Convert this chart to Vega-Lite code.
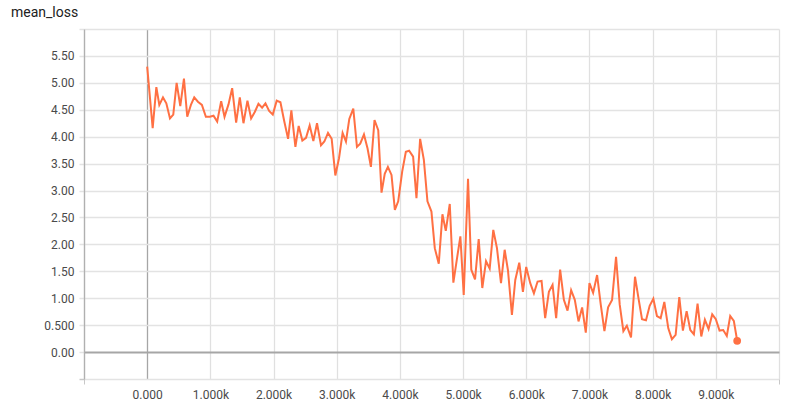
{
  "$schema": "https://vega.github.io/schema/vega-lite/v6.json",
  "autosize": {"type": "none"},
  "padding": {"left": 84, "top": 29, "right": 25, "bottom": 30},
  "width": 695,
  "height": 350,
  "background": "white",
  "title": {"text": "mean_loss", "anchor": "start", "frame": "group", "orient": "top", "offset": 0, "dx": -73, "dy": -3, "font": "Roboto", "fontSize": 14, "fontWeight": "normal", "color": "#212121"},
  "config": {"view": {"stroke": null}},
  "data": {"values": [
    {"step": 0, "value": 5.30}, {"step": 87, "value": 4.16}, {"step": 145, "value": 4.92}, {"step": 192, "value": 4.59},
    {"step": 250, "value": 4.73}, {"step": 303, "value": 4.62}, {"step": 361, "value": 4.34}, {"step": 413, "value": 4.41},
    {"step": 466, "value": 5.00}, {"step": 524, "value": 4.57}, {"step": 582, "value": 5.08}, {"step": 634, "value": 4.37},
    {"step": 692, "value": 4.59}, {"step": 745, "value": 4.73}, {"step": 803, "value": 4.65}, {"step": 866, "value": 4.59},
    {"step": 929, "value": 4.37}, {"step": 992, "value": 4.37}, {"step": 1050, "value": 4.39}, {"step": 1108, "value": 4.28},
    {"step": 1171, "value": 4.66}, {"step": 1224, "value": 4.37}, {"step": 1287, "value": 4.60}, {"step": 1345, "value": 4.90},
    {"step": 1408, "value": 4.26}, {"step": 1466, "value": 4.73}, {"step": 1524, "value": 4.25}, {"step": 1587, "value": 4.67},
    {"step": 1645, "value": 4.34}, {"step": 1703, "value": 4.46}, {"step": 1761, "value": 4.61}, {"step": 1819, "value": 4.54},
    {"step": 1872, "value": 4.62}, {"step": 1930, "value": 4.48}, {"step": 1988, "value": 4.41}, {"step": 2050, "value": 4.67},
    {"step": 2109, "value": 4.64}, {"step": 2167, "value": 4.30}, {"step": 2230, "value": 3.96}, {"step": 2282, "value": 4.49},
    {"step": 2346, "value": 3.81}, {"step": 2398, "value": 4.20}, {"step": 2456, "value": 3.93}, {"step": 2514, "value": 3.98},
    {"step": 2572, "value": 4.21}, {"step": 2630, "value": 3.92}, {"step": 2688, "value": 4.25}, {"step": 2751, "value": 3.84},
    {"step": 2804, "value": 3.91}, {"step": 2862, "value": 4.07}, {"step": 2920, "value": 3.96}, {"step": 2978, "value": 3.28},
    {"step": 3036, "value": 3.60}, {"step": 3093, "value": 4.07}, {"step": 3146, "value": 3.91}, {"step": 3199, "value": 4.33},
    {"step": 3262, "value": 4.52}, {"step": 3320, "value": 3.81}, {"step": 3372, "value": 3.87}, {"step": 3431, "value": 4.04},
    {"step": 3488, "value": 3.78}, {"step": 3541, "value": 3.44}, {"step": 3598, "value": 4.31}, {"step": 3657, "value": 4.12},
    {"step": 3709, "value": 2.96}, {"step": 3760, "value": 3.31}, {"step": 3810, "value": 3.44}, {"step": 3867, "value": 3.29},
    {"step": 3920, "value": 2.64}, {"step": 3973, "value": 2.80}, {"step": 4036, "value": 3.35}, {"step": 4094, "value": 3.72},
    {"step": 4146, "value": 3.74}, {"step": 4209, "value": 3.63}, {"step": 4262, "value": 2.86}, {"step": 4320, "value": 3.96},
    {"step": 4379, "value": 3.57}, {"step": 4436, "value": 2.80}, {"step": 4499, "value": 2.61}, {"step": 4552, "value": 1.93},
    {"step": 4615, "value": 1.64}, {"step": 4673, "value": 2.56}, {"step": 4726, "value": 2.25}, {"step": 4789, "value": 2.75},
    {"step": 4846, "value": 1.29}, {"step": 4905, "value": 1.75}, {"step": 4957, "value": 2.15}, {"step": 5010, "value": 1.06},
    {"step": 5078, "value": 3.22}, {"step": 5130, "value": 1.53}, {"step": 5189, "value": 1.35}, {"step": 5247, "value": 2.10},
    {"step": 5304, "value": 1.19}, {"step": 5363, "value": 1.69}, {"step": 5421, "value": 1.55}, {"step": 5478, "value": 2.27},
    {"step": 5536, "value": 1.93}, {"step": 5600, "value": 1.28}, {"step": 5658, "value": 1.90}, {"step": 5710, "value": 1.52},
    {"step": 5773, "value": 0.69}, {"step": 5826, "value": 1.34}, {"step": 5889, "value": 1.66}, {"step": 5947, "value": 1.12},
    {"step": 5999, "value": 1.58}, {"step": 6063, "value": 1.28}, {"step": 6121, "value": 1.09}, {"step": 6179, "value": 1.31},
    {"step": 6242, "value": 1.32}, {"step": 6299, "value": 0.63}, {"step": 6358, "value": 1.12}, {"step": 6416, "value": 1.25},
    {"step": 6473, "value": 0.63}, {"step": 6536, "value": 1.53}, {"step": 6595, "value": 0.97}, {"step": 6653, "value": 0.77},
    {"step": 6710, "value": 1.15}, {"step": 6768, "value": 0.97}, {"step": 6827, "value": 0.57}, {"step": 6884, "value": 0.83},
    {"step": 6942, "value": 0.36}, {"step": 7000, "value": 1.28}, {"step": 7058, "value": 1.10}, {"step": 7121, "value": 1.43},
    {"step": 7179, "value": 0.88}, {"step": 7237, "value": 0.39}, {"step": 7295, "value": 0.83}, {"step": 7358, "value": 0.97},
    {"step": 7421, "value": 1.77}, {"step": 7479, "value": 0.88}, {"step": 7537, "value": 0.39}, {"step": 7592, "value": 0.49},
    {"step": 7658, "value": 0.27}, {"step": 7721, "value": 1.40}, {"step": 7779, "value": 0.98}, {"step": 7832, "value": 0.61},
    {"step": 7895, "value": 0.59}, {"step": 7953, "value": 0.86}, {"step": 8011, "value": 0.99}, {"step": 8068, "value": 0.67},
    {"step": 8127, "value": 0.63}, {"step": 8185, "value": 0.93}, {"step": 8248, "value": 0.44}, {"step": 8305, "value": 0.24},
    {"step": 8364, "value": 0.32}, {"step": 8422, "value": 1.02}, {"step": 8479, "value": 0.40}, {"step": 8538, "value": 0.76},
    {"step": 8596, "value": 0.41}, {"step": 8653, "value": 0.33}, {"step": 8711, "value": 0.90}, {"step": 8770, "value": 0.29},
    {"step": 8827, "value": 0.60}, {"step": 8885, "value": 0.43}, {"step": 8943, "value": 0.70}, {"step": 9000, "value": 0.61},
    {"step": 9059, "value": 0.40}, {"step": 9117, "value": 0.41}, {"step": 9174, "value": 0.30}, {"step": 9228, "value": 0.67},
    {"step": 9285, "value": 0.58}, {"step": 9338, "value": 0.21}
  ]},
  "encoding": {
    "x": {
      "field": "step", "type": "quantitative",
      "scale": {"domain": [-1000, 10000], "nice": false, "zero": false},
      "axis": {
        "title": null,
        "values": [-1000, 0, 1000, 2000, 3000, 4000, 5000, 6000, 7000, 8000, 9000, 10000],
        "labelExpr": "datum.value < 0 || datum.value > 9500 ? '' : (datum.value == 0 ? '0.000' : format(datum.value / 1000, '.3f') + 'k')",
        "domain": false,
        "grid": true,
        "gridColor": {"condition": {"test": "datum.value == 0", "value": "#a6a6a6"}, "value": "#e0e0e0"},
        "gridWidth": 1.3,
        "ticks": true,
        "tickSize": 5,
        "tickColor": {"condition": {"test": "datum.value == -1000 || datum.value == 10000", "value": "#c8c8c8"}, "value": "transparent"},
        "labelFont": "Roboto",
        "labelFontSize": 12,
        "labelColor": "#4a4a4a",
        "labelPadding": 5,
        "labelFlush": false,
        "labelOverlap": false
      }
    },
    "y": {
      "field": "value", "type": "quantitative",
      "scale": {"domain": [-0.5, 6], "nice": false, "zero": false},
      "axis": {
        "title": null,
        "values": [-0.5, 0, 0.5, 1, 1.5, 2, 2.5, 3, 3.5, 4, 4.5, 5, 5.5, 6],
        "labelExpr": "datum.value < 0 || datum.value > 5.9 ? '' : (datum.value == 0.5 ? '0.500' : format(datum.value, '.2f'))",
        "domain": true,
        "domainColor": "#b0b0b0",
        "domainWidth": 1.3,
        "grid": true,
        "gridColor": {"condition": {"test": "datum.value == 0", "value": "#a6a6a6"}, "value": "#e3e3e3"},
        "gridWidth": {"condition": {"test": "datum.value == 0", "value": 2.2}, "value": 1.5},
        "ticks": true,
        "tickSize": 5,
        "tickColor": {"condition": {"test": "datum.value == -0.5", "value": "#c8c8c8"}, "value": "#e3e3e3"},
        "tickWidth": 1.5,
        "labelFont": "Roboto",
        "labelFontSize": 12,
        "labelColor": "#4a4a4a",
        "labelPadding": 5,
        "labelFlush": false,
        "labelOverlap": false
      }
    }
  },
  "layer": [
    {"mark": {"type": "line", "color": "#ff7043", "strokeWidth": 2, "clip": true}},
    {
      "transform": [{"filter": "datum.step == 9338"}],
      "mark": {"type": "point", "filled": true, "color": "#ff7043", "size": 60, "opacity": 1}
    }
  ]
}
